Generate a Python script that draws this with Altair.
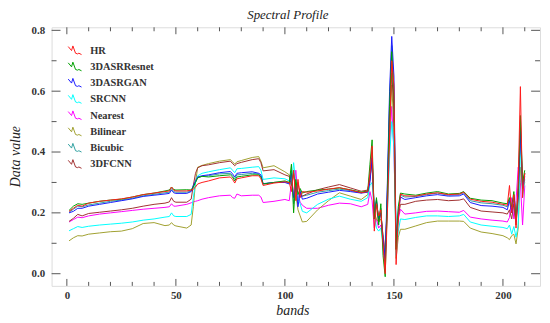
import altair as alt
import pandas as pd

bands = [1, 3, 5, 7, 10, 15, 20, 25, 30, 35, 40, 45, 47, 48, 49, 50, 55, 57, 58, 59, 60,
         62, 65, 70, 75, 76, 77, 78, 80, 85, 88, 89, 90, 95, 100,
         102, 103, 104, 105, 106, 107, 108, 110, 115, 120, 125, 130, 135,
         138, 139, 140, 141, 142, 143, 144, 145, 146, 147, 148, 149, 150, 151, 152, 153,
         155, 160, 165, 170, 175, 180, 182, 185, 190, 195, 200,
         202, 203, 204, 205, 206, 207, 208, 209, 210]

hr = [0.205, 0.215, 0.225, 0.222, 0.232, 0.238, 0.242, 0.246, 0.252, 0.260, 0.265, 0.270, 0.272, 0.285, 0.275, 0.272, 0.272, 0.275, 0.278, 0.285, 0.295,
      0.300, 0.305, 0.315, 0.318, 0.310, 0.298, 0.312, 0.315, 0.322, 0.322, 0.312, 0.290, 0.298, 0.302,
      0.300, 0.270, 0.340, 0.240, 0.310, 0.250, 0.270, 0.268, 0.272, 0.278, 0.283, 0.275, 0.266,
      0.270, 0.330, 0.420, 0.140, 0.230, 0.190, 0.210, 0.100, 0.000, 0.200, 0.450, 0.700, 0.620, 0.030, 0.180, 0.262,
      0.256, 0.255, 0.262, 0.266, 0.260, 0.262, 0.268, 0.245, 0.238, 0.235, 0.228,
      0.225, 0.290, 0.200, 0.260, 0.150, 0.300, 0.615, 0.250, 0.330]

resnet = [0.208, 0.222, 0.230, 0.228, 0.232, 0.238, 0.242, 0.245, 0.252, 0.260, 0.265, 0.272, 0.275, 0.285, 0.277, 0.275, 0.276, 0.275, 0.285, 0.300, 0.315,
          0.320, 0.318, 0.322, 0.325, 0.318, 0.305, 0.318, 0.320, 0.325, 0.325, 0.318, 0.295, 0.300, 0.305,
          0.300, 0.360, 0.200, 0.310, 0.260, 0.280, 0.265, 0.270, 0.275, 0.278, 0.282, 0.276, 0.268,
          0.272, 0.360, 0.440, 0.180, 0.250, 0.160, 0.230, 0.060, -0.010, 0.250, 0.550, 0.730, 0.560, 0.080, 0.220, 0.265,
          0.262, 0.258, 0.265, 0.270, 0.262, 0.264, 0.270, 0.248, 0.242, 0.240, 0.232,
          0.230, 0.250, 0.220, 0.270, 0.180, 0.280, 0.520, 0.300, 0.340]

gan = [0.200, 0.205, 0.215, 0.215, 0.222, 0.228, 0.234, 0.240, 0.246, 0.254, 0.258, 0.262, 0.264, 0.275, 0.266, 0.264, 0.264, 0.270, 0.290, 0.305, 0.318,
       0.322, 0.325, 0.332, 0.336, 0.328, 0.318, 0.330, 0.332, 0.335, 0.330, 0.325, 0.296, 0.300, 0.300,
       0.295, 0.330, 0.250, 0.290, 0.220, 0.270, 0.245, 0.248, 0.262, 0.268, 0.274, 0.270, 0.265,
       0.268, 0.300, 0.380, 0.200, 0.240, 0.180, 0.200, 0.120, 0.050, 0.300, 0.600, 0.780, 0.650, 0.100, 0.200, 0.252,
       0.244, 0.250, 0.256, 0.260, 0.255, 0.256, 0.262, 0.234, 0.224, 0.222, 0.218,
       0.210, 0.240, 0.200, 0.250, 0.170, 0.260, 0.470, 0.280, 0.320]

srcnn = [0.141, 0.148, 0.155, 0.152, 0.156, 0.160, 0.163, 0.166, 0.170, 0.176, 0.180, 0.186, 0.188, 0.200, 0.190, 0.188, 0.188, 0.195, 0.250, 0.300, 0.322,
         0.330, 0.335, 0.342, 0.348, 0.340, 0.332, 0.345, 0.346, 0.350, 0.352, 0.340, 0.310, 0.315, 0.312,
         0.305, 0.290, 0.365, 0.300, 0.250, 0.230, 0.205, 0.200, 0.228, 0.245, 0.255, 0.245, 0.238,
         0.250, 0.290, 0.300, 0.200, 0.150, 0.140, 0.150, 0.100, 0.060, 0.200, 0.380, 0.500, 0.420, 0.060, 0.140, 0.180,
         0.178, 0.185, 0.190, 0.190, 0.188, 0.190, 0.195, 0.170, 0.160, 0.156, 0.152,
         0.148, 0.160, 0.130, 0.155, 0.120, 0.160, 0.420, 0.250, 0.310]

nearest = [0.170, 0.178, 0.186, 0.184, 0.190, 0.196, 0.200, 0.204, 0.208, 0.212, 0.215, 0.218, 0.220, 0.230, 0.222, 0.222, 0.228, 0.233, 0.236, 0.238, 0.240,
           0.245, 0.250, 0.256, 0.258, 0.250, 0.248, 0.262, 0.256, 0.258, 0.258, 0.252, 0.234, 0.238, 0.244,
           0.240, 0.300, 0.250, 0.340, 0.260, 0.235, 0.225, 0.215, 0.215, 0.225, 0.232, 0.230, 0.220,
           0.228, 0.270, 0.240, 0.150, 0.180, 0.150, 0.160, 0.120, 0.080, 0.220, 0.420, 0.550, 0.400, 0.120, 0.180, 0.212,
           0.196, 0.200, 0.205, 0.206, 0.204, 0.202, 0.208, 0.186, 0.180, 0.176, 0.173,
           0.170, 0.185, 0.250, 0.180, 0.240, 0.350, 0.300, 0.160, 0.290]

bilinear = [0.108, 0.118, 0.125, 0.124, 0.130, 0.134, 0.138, 0.140, 0.148, 0.165, 0.168, 0.158, 0.160, 0.168, 0.160, 0.157, 0.150, 0.160, 0.220, 0.300, 0.350,
            0.356, 0.362, 0.370, 0.375, 0.368, 0.360, 0.368, 0.372, 0.382, 0.385, 0.370, 0.348, 0.355, 0.335,
            0.325, 0.300, 0.340, 0.260, 0.210, 0.190, 0.170, 0.172, 0.210, 0.240, 0.266, 0.255, 0.244,
            0.260, 0.320, 0.360, 0.200, 0.180, 0.170, 0.180, 0.130, 0.070, 0.230, 0.450, 0.620, 0.480, 0.050, 0.120, 0.146,
            0.146, 0.157, 0.168, 0.173, 0.173, 0.173, 0.172, 0.150, 0.137, 0.132, 0.125,
            0.118, 0.112, 0.125, 0.130, 0.098, 0.150, 0.350, 0.280, 0.300]

bicubic = [0.202, 0.212, 0.222, 0.220, 0.226, 0.232, 0.238, 0.242, 0.248, 0.256, 0.261, 0.266, 0.268, 0.280, 0.270, 0.268, 0.268, 0.272, 0.288, 0.302, 0.316,
           0.320, 0.322, 0.328, 0.330, 0.322, 0.312, 0.325, 0.326, 0.330, 0.328, 0.320, 0.295, 0.300, 0.302,
           0.298, 0.340, 0.230, 0.300, 0.240, 0.275, 0.255, 0.258, 0.268, 0.273, 0.278, 0.273, 0.266,
           0.270, 0.330, 0.400, 0.190, 0.245, 0.170, 0.215, 0.090, 0.020, 0.280, 0.570, 0.750, 0.600, 0.090, 0.210, 0.258,
           0.252, 0.254, 0.260, 0.265, 0.258, 0.260, 0.266, 0.240, 0.233, 0.230, 0.225,
           0.220, 0.245, 0.210, 0.260, 0.175, 0.270, 0.500, 0.290, 0.330]

fcnn = [0.172, 0.182, 0.195, 0.190, 0.198, 0.202, 0.206, 0.210, 0.215, 0.222, 0.228, 0.232, 0.236, 0.250, 0.238, 0.235, 0.235, 0.245, 0.290, 0.330, 0.348,
        0.355, 0.358, 0.365, 0.370, 0.362, 0.355, 0.362, 0.366, 0.375, 0.378, 0.365, 0.338, 0.342, 0.325,
        0.320, 0.290, 0.330, 0.270, 0.300, 0.260, 0.255, 0.262, 0.276, 0.285, 0.293, 0.282, 0.271,
        0.275, 0.310, 0.380, 0.180, 0.230, 0.170, 0.200, 0.110, 0.040, 0.260, 0.520, 0.660, 0.540, 0.080, 0.190, 0.228,
        0.228, 0.238, 0.242, 0.244, 0.240, 0.242, 0.246, 0.218, 0.206, 0.203, 0.200,
        0.196, 0.210, 0.180, 0.230, 0.160, 0.250, 0.480, 0.280, 0.330]

legend_order = ["HR", "3DASRResnet", "3DASRGAN", "SRCNN", "Nearest", "Bilinear", "Bicubic", "3DFCNN"]
colors = ["#ff1a1a", "#00a000", "#1a1aff", "#00ffff", "#ff00ff", "#a0a030", "#30a0a0", "#a03030"]

# draw order (bottom to top)
draw_series = [("Bicubic", bicubic), ("Nearest", nearest), ("Bilinear", bilinear), ("SRCNN", srcnn),
               ("3DFCNN", fcnn), ("3DASRGAN", gan), ("3DASRResnet", resnet), ("HR", hr)]

rows = []
for order, (name, vals) in enumerate(draw_series):
    for b, v in zip(bands, vals):
        rows.append({"band": b, "value": v, "series": name, "order": order})
df = pd.DataFrame(rows)

y_major = [0.0, 0.2, 0.4, 0.6, 0.8]
y_minor = [0.1, 0.3, 0.5, 0.7]
x_major = [0, 50, 100, 150, 200]
x_minor = [10, 20, 30, 40, 60, 70, 80, 90, 110, 120, 130, 140, 160, 170, 180, 190, 210]

W, H = 493, 261
xdom = [-7, 217]
ydom = [-0.04, 0.81]
xs = alt.Scale(domain=xdom, nice=False, zero=False)
ys = alt.Scale(domain=ydom, nice=False, zero=False)

serif = "Liberation Serif"
tick_col = "#555555"

lines = alt.Chart(df).mark_line(strokeWidth=1, clip=True).encode(
    x=alt.X("band:Q", scale=xs,
            axis=alt.Axis(values=x_major, format="d", ticks=False, domain=False, grid=False,
                          labelFont=serif, labelFontWeight="bold", labelFontSize=11, labelColor="#333333",
                          labelPadding=4, title="bands", titleFont=serif, titleFontStyle="italic",
                          titleFontWeight="normal", titleFontSize=14, titleColor="#222222",
                          titleX=243, titleY=25, titleBaseline="middle", titleAlign="center")),
    y=alt.Y("value:Q", scale=ys,
            axis=alt.Axis(values=y_major, format=".1f", ticks=False, domain=False, grid=False,
                          labelFont=serif, labelFontWeight="bold", labelFontSize=11, labelColor="#333333",
                          labelPadding=7, title="Data value", titleFont=serif, titleFontStyle="italic",
                          titleFontWeight="normal", titleFontSize=14, titleColor="#222222",
                          titleX=-36, titleY=130, titleAngle=270, titleBaseline="middle", titleAlign="center")),
    color=alt.Color("series:N", scale=alt.Scale(domain=legend_order, range=colors), title=None,
                    legend=alt.Legend(orient="none", legendX=16, legendY=16, padding=0,
                                      symbolType="M-1,-0.6L-0.5,0L-0.3,-0.7L0.1,0.4L0.4,0.5L0.6,0.4L1,0.6",
                                      symbolSize=180, symbolStrokeWidth=1, symbolFillColor="transparent",
                                      labelFont=serif, labelFontWeight="bold", labelFontSize=10.5,
                                      labelColor="#333333", labelOffset=8, rowPadding=2.4)),
    order=alt.Order("order:Q"),
    detail="series:N",
)

df_ymaj = pd.DataFrame({"v": y_major})
df_ymin = pd.DataFrame({"v": y_minor})
df_xmaj = pd.DataFrame({"v": x_major})
df_xmin = pd.DataFrame({"v": x_minor})

def yticks(d, length):
    left = alt.Chart(d).mark_rule(color=tick_col, strokeWidth=1).encode(
        y=alt.Y("v:Q", scale=ys), x=alt.value(0), x2=alt.value(length))
    right = alt.Chart(d).mark_rule(color=tick_col, strokeWidth=1).encode(
        y=alt.Y("v:Q", scale=ys), x=alt.value(W - length), x2=alt.value(W))
    return left + right

def xticks(d, length):
    bottom = alt.Chart(d).mark_rule(color=tick_col, strokeWidth=1).encode(
        x=alt.X("v:Q", scale=xs), y=alt.value(H - length), y2=alt.value(H))
    top = alt.Chart(d).mark_rule(color=tick_col, strokeWidth=1).encode(
        x=alt.X("v:Q", scale=xs), y=alt.value(0), y2=alt.value(length))
    return bottom + top

chart = alt.layer(
    lines,
    yticks(df_ymaj, 9), yticks(df_ymin, 5),
    xticks(df_xmaj, 7), xticks(df_xmin, 4),
).properties(
    width=W, height=H,
    autosize=alt.AutoSizeParams(type="none"),
    padding={"left": 44, "top": 18, "right": 2, "bottom": 36},
    title=alt.TitleParams("Spectral Profile", font=serif, fontStyle="italic", fontWeight="normal",
                          fontSize=13, color="#222222", anchor="middle", dx=-8, offset=2),
).configure_view(stroke="#555555", strokeWidth=1.5).configure(background="white")

chart.save("out.html", embed_options={"renderer": "svg", "actions": False})
